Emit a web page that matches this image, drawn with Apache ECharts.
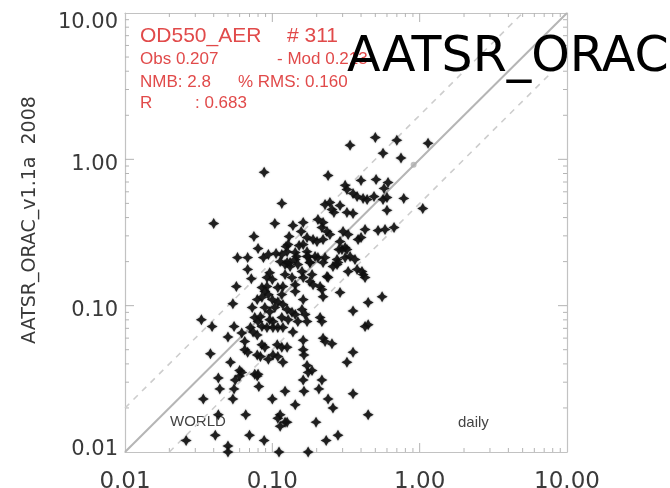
<!DOCTYPE html>
<html><head><meta charset="utf-8">
<script src="https://cdn.jsdelivr.net/npm/echarts@6/dist/echarts.min.js"></script>
<style>html,body{margin:0;padding:0;background:#fff;overflow:hidden}#c{width:670px;height:488px}</style>
</head><body><div id="c"></div>
<script>
// ---- data ----
const axisMin = 0.01;
const axisMax = 10;
const titleText = 'AATSR_ORAC';
const yAxisName = 'AATSR_ORAC_v1.1a  2008';
const statsLeft = ['OD550_AER', 'Obs 0.207', 'NMB: 2.8', 'R'];
const statsRight = ['# 311', '- Mod 0.213', '% RMS: 0.160', ': 0.683'];
const regionLabel = 'WORLD';
const freqLabel = 'daily';
const majorTickValues = [0.1, 1];
const minorTickValues = [0.02,0.03,0.04,0.05,0.06,0.07,0.08,0.09, 0.2,0.3,0.4,0.5,0.6,0.7,0.8,0.9, 2,3,4,5,6,7,8,9];
// [observation, model] AOD pairs
const aodPairs = [
  [0.088,0.815],[0.116,0.50],[0.040,0.364],[0.50,1.41],[0.70,1.35],[0.337,1.25],[0.564,1.10],[0.747,1.02],[1.14,1.29],[0.239,0.776],
  [0.40,0.718],[0.506,0.729],[0.61,0.695],[0.312,0.664],[0.321,0.623],[0.573,0.633],[0.353,0.585],[0.376,0.558],[0.413,0.541],[0.44,0.532],
  [0.49,0.558],[0.564,0.532],[0.60,0.549],[0.78,0.541],[1.05,0.462],[0.60,0.448],[0.228,0.492],[0.246,0.507],[0.254,0.454],[0.262,0.434],
  [0.288,0.484],[0.321,0.434],[0.353,0.427],[0.162,0.370],[0.204,0.388],[0.221,0.370],[0.104,0.364],
  [0.426,0.332],[0.522,0.326],[0.582,0.332],[0.67,0.342],[0.302,0.321],[0.327,0.306],[0.217,0.342],[0.235,0.321],[0.246,0.306],[0.172,0.292],
  [0.189,0.283],[0.201,0.274],[0.221,0.283],[0.288,0.274],[0.312,0.25],[0.297,0.242],[0.382,0.283],[0.40,0.292],[0.162,0.262],[0.172,0.234],
  [0.172,0.217],[0.195,0.217],[0.204,0.213],[0.228,0.213],[0.138,0.353],[0.157,0.321],[0.075,0.297],[0.130,0.297],[0.128,0.262],[0.124,0.254],
  [0.152,0.258],[0.080,0.246],[0.106,0.227],[0.126,0.234],[0.058,0.213],[0.068,0.213],[0.143,0.231],[0.116,0.224],
  [0.146,0.217],[0.180,0.197],[0.221,0.197],[0.321,0.242],[0.126,0.197],[0.132,0.185],[0.175,0.217],[0.275,0.207],[0.312,0.213],[0.337,0.217],
  [0.376,0.177],[0.283,0.242],
  [0.087,0.213],[0.094,0.224],[0.113,0.20],[0.122,0.191],[0.132,0.197],[0.143,0.207],[0.149,0.191],
  [0.068,0.177],[0.096,0.168],[0.092,0.156],[0.10,0.151],[0.122,0.163],[0.136,0.156],[0.072,0.153],
  [0.057,0.135],[0.085,0.133],[0.092,0.135],[0.089,0.125],[0.094,0.119],[0.109,0.133],[0.118,0.135],
  [0.116,0.119],[0.143,0.139],[0.143,0.125],[0.079,0.11],[0.085,0.114],[0.10,0.11],[0.109,0.106],
  [0.118,0.102],[0.054,0.103],[0.073,0.097],[0.089,0.097],[0.096,0.091],[0.104,0.097],[0.126,0.094],
  [0.136,0.090],[0.143,0.087],[0.076,0.083],[0.080,0.078],[0.083,0.084],[0.096,0.080],[0.101,0.078],
  [0.116,0.083],[0.128,0.080],[0.149,0.078],[0.033,0.080],[0.039,0.072],[0.055,0.072],[0.071,0.071],
  [0.074,0.066],[0.079,0.063],[0.085,0.072],[0.092,0.071],[0.101,0.071],[0.109,0.071],[0.118,0.071],
  [0.138,0.066],[0.050,0.061],[0.062,0.065],[0.065,0.057],[0.085,0.054],[0.089,0.052],[0.108,0.054],
  [0.116,0.052],[0.126,0.052],[0.038,0.047],[0.065,0.050],[0.068,0.048],[0.079,0.046],[0.083,0.045],
  [0.101,0.046],[0.109,0.045],
  [0.258,0.185],[0.275,0.191],[0.279,0.197],[0.327,0.171],[0.364,0.207],[0.406,0.171],[0.413,0.163],
  [0.426,0.156],[0.159,0.171],[0.162,0.156],[0.186,0.163],[0.180,0.146],[0.189,0.139],[0.235,0.158],
  [0.239,0.156],[0.211,0.135],[0.217,0.129],[0.221,0.115],[0.288,0.123],[0.162,0.11],[0.353,0.092],
  [0.447,0.105],[0.556,0.115],[0.159,0.094],[0.167,0.087],[0.172,0.078],[0.211,0.083],[0.217,0.078],
  [0.426,0.072],[0.447,0.074],[0.162,0.058],[0.221,0.060],[0.228,0.057],[0.254,0.055],[0.353,0.048],
  [0.162,0.050],[0.18,0.197],[0.164,0.046],
  [0.052,0.041],[0.094,0.043],[0.118,0.041],[0.172,0.039],[0.186,0.036],[0.175,0.035],[0.321,0.041],
  [0.060,0.036],[0.062,0.035],[0.060,0.033],[0.076,0.034],[0.080,0.034],[0.079,0.033],[0.043,0.032],
  [0.056,0.031],[0.162,0.031],[0.217,0.031],[0.207,0.027],[0.044,0.027],[0.055,0.027],[0.081,0.028],
  [0.122,0.026],[0.164,0.026],[0.353,0.025],[0.034,0.023],[0.054,0.023],[0.10,0.023],[0.143,0.021],
  [0.239,0.023],[0.258,0.020],[0.043,0.018],[0.066,0.018],[0.113,0.018],[0.109,0.017],[0.113,0.015],
  [0.122,0.016],[0.126,0.016],[0.198,0.016],[0.447,0.018],[0.026,0.012],[0.041,0.013],[0.070,0.013],
  [0.088,0.012],[0.050,0.011],[0.050,0.010],[0.111,0.010],[0.175,0.010],[0.232,0.012],[0.279,0.013]
];
const meanMarker = [[0.91, 0.92]];
const oneToOne = [[0.01, 0.01], [10, 10]];
const factor2Upper = [[0.01, 0.02], [5, 10]];
const factor2Lower = [[0.02, 0.01], [10, 5]];

// ---- chart ----
const frameColor = '#c2c2c2';
const tickColor = '#b4b4b4';
const labelColor = '#3a3a3a';
const red = '#e14a4a';
const sans = '"Liberation Sans", Arial, Helvetica, sans-serif';
const wide = '"DejaVu Sans", sans-serif';

function makeAxis(extra) {
  return Object.assign({
    type: 'log', logBase: 10, min: axisMin, max: axisMax,
    axisLine: { show: true, onZero: false, lineStyle: { color: frameColor, width: 1.2 } },
    axisTick: { show: false }, minorTick: { show: false },
    splitLine: { show: false }, minorSplitLine: { show: false }
  }, extra);
}

function tickRenderer(len) {
  return function (params, api) {
    const v = api.value(0);
    const b = api.coord([v, axisMin]), t = api.coord([v, axisMax]);
    const l = api.coord([axisMin, v]), r = api.coord([axisMax, v]);
    const st = { stroke: tickColor, lineWidth: 1 };
    return { type: 'group', children: [
      { type: 'line', shape: { x1: b[0], y1: b[1], x2: b[0], y2: b[1] - len }, style: st },
      { type: 'line', shape: { x1: t[0], y1: t[1], x2: t[0], y2: t[1] + len }, style: st },
      { type: 'line', shape: { x1: l[0], y1: l[1], x2: l[0] + len, y2: l[1] }, style: st },
      { type: 'line', shape: { x1: r[0], y1: r[1], x2: r[0] - len, y2: r[1] }, style: st }
    ] };
  };
}

const yLabelFmt = v => {
  const s = Number(v).toFixed(2);
  if (Math.abs(v - axisMax) < 1e-9) return '{top|' + s + '}';
  if (Math.abs(v - axisMin) < 1e-9) return '{bot|' + s + '}';
  return '{mid|' + s + '}';
};
const yRichBase = { fontSize: 21, fontFamily: wide, color: labelColor };

const chart = echarts.init(document.getElementById('c'), null, { renderer: 'canvas' });
chart.setOption({
  animation: false,
  backgroundColor: '#fff',
  title: {
    text: titleText, left: 347, top: 34, padding: 0,
    textStyle: { fontFamily: wide, fontSize: 49, fontWeight: 'normal', color: '#000' }
  },
  grid: { left: 125, right: 103, top: 13, bottom: 36, containLabel: false, outerBoundsMode: 'none' },
  xAxis: [
    makeAxis({ position: 'bottom', axisLabel: { show: true, margin: 19, color: labelColor, fontSize: 23, fontFamily: wide, formatter: v => Number(v).toFixed(2) } }),
    makeAxis({ position: 'top', axisLabel: { show: false } })
  ],
  yAxis: [
    makeAxis({ position: 'left', axisLabel: { show: true, margin: 7, color: labelColor, fontSize: 21, fontFamily: wide, formatter: yLabelFmt,
      rich: {
        top: Object.assign({ padding: [20, 0, 0, 0] }, yRichBase),
        mid: Object.assign({ padding: [10, 0, 0, 0] }, yRichBase),
        bot: Object.assign({ padding: [0, 0, 4, 0] }, yRichBase)
      } } }),
    makeAxis({ position: 'right', axisLabel: { show: false } })
  ],
  graphic: [
    { type: 'text', x: 30, y: 220, rotation: Math.PI / 2, style: { text: yAxisName, fill: labelColor, font: '19px ' + wide, align: 'center', verticalAlign: 'middle' } },
    { type: 'text', x: 140, y: 36, style: { text: statsLeft[0], fill: red, font: '21px ' + sans, align: 'left', verticalAlign: 'middle' } },
    { type: 'text', x: 287, y: 36, style: { text: statsRight[0], fill: red, font: '21px ' + sans, align: 'left', verticalAlign: 'middle' } },
    { type: 'text', x: 140, y: 59, style: { text: statsLeft[1], fill: red, font: '17px ' + sans, align: 'left', verticalAlign: 'middle' } },
    { type: 'text', x: 277, y: 59, style: { text: statsRight[1], fill: red, font: '17px ' + sans, align: 'left', verticalAlign: 'middle' } },
    { type: 'text', x: 140, y: 82, style: { text: statsLeft[2], fill: red, font: '17px ' + sans, align: 'left', verticalAlign: 'middle' } },
    { type: 'text', x: 238, y: 82, style: { text: statsRight[2], fill: red, font: '17px ' + sans, align: 'left', verticalAlign: 'middle' } },
    { type: 'text', x: 140, y: 103, style: { text: statsLeft[3], fill: red, font: '17px ' + sans, align: 'left', verticalAlign: 'middle' } },
    { type: 'text', x: 195, y: 103, style: { text: statsRight[3], fill: red, font: '17px ' + sans, align: 'left', verticalAlign: 'middle' } },
    { type: 'text', x: 170, y: 422, style: { text: regionLabel, fill: '#444', font: '15px ' + sans, align: 'left', verticalAlign: 'middle' } },
    { type: 'text', x: 458, y: 423, style: { text: freqLabel, fill: '#444', font: '15px ' + sans, align: 'left', verticalAlign: 'middle' } }
  ],
  series: [
    { type: 'custom', coordinateSystem: 'cartesian2d', data: majorTickValues.map(v => [v, v]), encode: { x: 0, y: 1 }, renderItem: tickRenderer(9), silent: true, clip: false, z: 1 },
    { type: 'custom', coordinateSystem: 'cartesian2d', data: minorTickValues.map(v => [v, v]), encode: { x: 0, y: 1 }, renderItem: tickRenderer(4), silent: true, clip: false, z: 1 },
    { type: 'line', data: oneToOne, symbol: 'none', silent: true, lineStyle: { color: '#b5b5b5', width: 2 }, z: 1 },
    { type: 'line', data: factor2Upper, symbol: 'none', silent: true, lineStyle: { color: '#cdcdcd', width: 1.6, type: [6, 6] }, z: 1 },
    { type: 'line', data: factor2Lower, symbol: 'none', silent: true, lineStyle: { color: '#cdcdcd', width: 1.6, type: [6, 6] }, z: 1 },
    { type: 'scatter', data: aodPairs, symbol: 'path://M0,-10 L3.6,-3.6 L10,0 L3.6,3.6 L0,10 L-3.6,3.6 L-10,0 L-3.6,-3.6 Z', symbolSize: 11,
      itemStyle: { color: '#111', opacity: 0.9, shadowBlur: 2, shadowColor: 'rgba(0,0,0,0.45)' }, z: 3 },
    { type: 'scatter', data: meanMarker, symbol: 'circle', symbolSize: 6, itemStyle: { color: '#b0b0b0' }, z: 2 }
  ]
});
</script></body></html>
